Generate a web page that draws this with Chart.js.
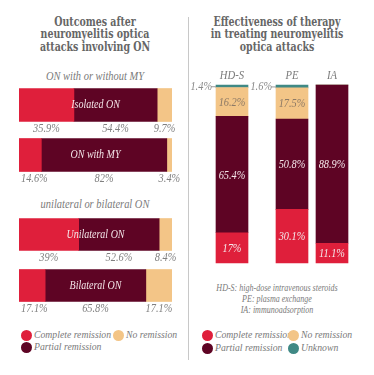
<!DOCTYPE html>
<html lang="en">
<head>
<meta charset="UTF-8">
<title>Neuromyelitis optica outcomes</title>
<script src="https://cdn.jsdelivr.net/npm/chart.js"></script>
<style>
  body { margin: 0; width: 374px; height: 375px; position: relative; background: #fff; overflow: hidden; }
  canvas { position: absolute; }
  .title { position: absolute; font-family: 'DejaVu Serif', serif; font-weight: bold; font-stretch: condensed;
           font-size: 12.2px; line-height: 12.4px; color: #666; text-align: center;
           transform: scaleX(0.86); transform-origin: center top; }
  .it { position: absolute; font-family: 'Liberation Serif', 'Times New Roman', serif; font-style: italic; color: #7a7a7a; white-space: nowrap; }
  .sub { font-size: 12px; width: 190px; text-align: center; left: 0; transform: scaleX(0.87); }
  .note { font-size: 10px; line-height: 11px; text-align: center; left: 190px; width: 174px; top: 282px;
          transform: scaleX(0.8); }
  .leg { font-size: 11.3px; transform: scaleX(0.86); transform-origin: left center; }
  .dot { position: absolute; width: 11px; height: 11px; border-radius: 50%; }
  .sep { position: absolute; left: 188px; top: 17px; width: 1px; height: 343px; background: #c8c8c8; }
</style>
</head>
<body>
<div class="title" style="left:0;top:16px;width:190px;">Outcomes after<br>neuromyelitis optica<br>attacks involving ON</div>
<div class="title" style="left:187px;top:16px;width:180px;">Effectiveness of therapy<br>in treating neuromyelitis<br>optica attacks</div>
<div class="sep"></div>

<div class="it sub" style="top:69px;">ON with or without MY</div>
<div class="it sub" style="top:197px;">unilateral or bilateral ON</div>

<canvas id="leftA" width="187" height="110" style="left:0;top:80px;"></canvas>
<canvas id="leftB" width="187" height="112" style="left:0;top:209px;"></canvas>
<canvas id="right" width="186" height="200" style="left:188px;top:65px;"></canvas>

<div class="it note">HD-S: high-dose intravenous steroids<br>PE: plasma exchange<br>IA: immunoadsorption</div>

<div id="legLeft"></div>
<div id="legRight"></div>

<script>
// outcomes after attacks (percent)
const groupA = ['Isolated ON', 'ON with MY'];
const completeA = [35.9, 14.6];
const partialA = [54.4, 82];
const noneA = [9.7, 3.4];

const groupB = ['Unilateral ON', 'Bilateral ON'];
const completeB = [39, 17.1];
const partialB = [52.6, 65.8];
const noneB = [8.4, 17.1];

// therapy effectiveness (percent)
const therapies = ['HD-S', 'PE', 'IA'];
const therapyComplete = [17, 30.1, 11.1];
const therapyPartial = [65.4, 50.8, 88.9];
const therapyNone = [16.2, 17.5, 0];
const therapyUnknown = [1.4, 1.6, 0];

const RED = '#df1f3b', MAROON = '#5e0424', TAN = '#f3c587', TEAL = '#3f8985';
const SERIF = '"Liberation Serif", "Times New Roman", serif';
const SERIF_IT = 'italic 11.5px ' + SERIF;

function fmt(v) { return v + '%'; }

// the original uses a narrow italic, so squeeze the text a bit
function squeezed(ctx, text, x, y, sx) {
  ctx.save();
  ctx.translate(x, y);
  ctx.scale(sx, 1);
  ctx.fillText(text, 0, 0);
  ctx.restore();
}

// labels below horizontal bars
const belowLabels = {
  id: 'belowLabels',
  afterDatasetsDraw(chart) {
    const ctx = chart.ctx;
    ctx.save();
    ctx.font = SERIF_IT;
    ctx.textBaseline = 'middle';
    ctx.textAlign = 'center';
    chart.data.datasets.forEach((ds, di) => {
      chart.getDatasetMeta(di).data.forEach((bar, i) => {
        const p = bar.getProps(['x', 'y', 'base', 'height'], true);
        const w = ctx.measureText(fmt(ds.data[i])).width * 0.9;
        let cx = (p.x + p.base) / 2;
        cx = Math.max(cx, 21 + w / 2);
        cx = Math.min(cx, 181 - w / 2);
        ctx.fillStyle = '#808080';
        squeezed(ctx, fmt(ds.data[i]), cx, p.y + p.height / 2 + 7, 0.9);
      });
    });
    // category name inside the bar
    ctx.font = 'italic 12.5px ' + SERIF;
    ctx.fillStyle = '#f4e6e9';
    const area = chart.chartArea;
    chart.getDatasetMeta(0).data.forEach((bar, i) => {
      squeezed(ctx, chart.data.labels[i], (area.left + area.right) / 2, bar.y, 0.8);
    });
    ctx.restore();
  }
};

function hbar(id, labels, c, p, n, thick) {
  new Chart(document.getElementById(id), {
    type: 'bar',
    data: {
      labels: labels,
      datasets: [
        { label: 'Complete remission', data: c, backgroundColor: RED },
        { label: 'Partial remission', data: p, backgroundColor: MAROON },
        { label: 'No remission', data: n, backgroundColor: TAN }
      ]
    },
    options: {
      indexAxis: 'y',
      responsive: false,
      animation: false,
      layout: { padding: { left: 19, right: 15, top: 0, bottom: 10 } },
      datasets: { bar: { barThickness: thick, borderWidth: 0 } },
      scales: {
        x: { stacked: true, min: 0, max: 100, display: false },
        y: { stacked: true, display: false }
      },
      plugins: { legend: { display: false }, tooltip: { enabled: false } }
    },
    plugins: [belowLabels]
  });
}

hbar('leftA', groupA, completeA, partialA, noneA, 33);
hbar('leftB', groupB, completeB, partialB, noneB, 32);

// spacer slots so the three therapy bars sit like the original
const slotOf = [0, 3, 5];
const SLOTS = 6;
function spread(arr) {
  const out = new Array(SLOTS).fill(null);
  arr.forEach((v, i) => { out[slotOf[i]] = v; });
  return out;
}
const slotLabels = spread(therapies).map(v => v || '');

const stackLabels = {
  id: 'stackLabels',
  afterDatasetsDraw(chart) {
    const ctx = chart.ctx;
    ctx.save();
    ctx.font = SERIF_IT;
    ctx.textBaseline = 'middle';
    ctx.textAlign = 'center';
    chart.data.datasets.forEach((ds, di) => {
      chart.getDatasetMeta(di).data.forEach((bar, i) => {
        const v = ds.data[i];
        if (!v) return;
        const p = bar.getProps(['x', 'y', 'base', 'width'], true);
        if (v < 5) {
          // tiny slice: label on the left with a short leader
          const left = p.x - p.width / 2;
          const ty = (p.y + p.base) / 2;
          ctx.strokeStyle = '#9a9a9a';
          ctx.lineWidth = 1;
          ctx.beginPath();
          ctx.moveTo(left - 5, ty + 0.5);
          ctx.lineTo(left, ty + 0.5);
          ctx.stroke();
          ctx.fillStyle = '#8a8a8a';
          ctx.textAlign = 'right';
          squeezed(ctx, fmt(v), left - 4, ty + 1, 0.9);
          ctx.textAlign = 'center';
          return;
        }
        ctx.fillStyle = ds.backgroundColor === TAN ? '#8d7a66' : '#f4e6e9';
        squeezed(ctx, fmt(v), p.x, (p.y + p.base) / 2 + 1, 0.9);
      });
    });
    // therapy names above bars
    ctx.font = 'italic 13px ' + SERIF;
    ctx.fillStyle = '#7a7a7a';
    chart.getDatasetMeta(0).data.forEach((bar, i) => {
      if (chart.data.labels[i]) squeezed(ctx, chart.data.labels[i], bar.x, chart.chartArea.top - 9, 0.82);
    });
    ctx.restore();
  }
};

new Chart(document.getElementById('right'), {
  type: 'bar',
  data: {
    labels: slotLabels,
    datasets: [
      { label: 'Complete remission', data: spread(therapyComplete), backgroundColor: RED },
      { label: 'Partial remission', data: spread(therapyPartial), backgroundColor: MAROON },
      { label: 'No remission', data: spread(therapyNone), backgroundColor: TAN },
      { label: 'Unknown', data: spread(therapyUnknown), backgroundColor: TEAL }
    ]
  },
  options: {
    responsive: false,
    animation: false,
    layout: { padding: { left: 34, right: 32, top: 20, bottom: 2 } },
    datasets: { bar: { barThickness: 32, borderWidth: 0, clip: false } },
    scales: {
      x: { stacked: true, display: false },
      y: { stacked: true, min: 0, max: 100, display: false }
    },
    plugins: { legend: { display: false }, tooltip: { enabled: false } }
  },
  plugins: [stackLabels]
});

// legends
function legend(hostId, items) {
  const host = document.getElementById(hostId);
  items.forEach(it => {
    const d = document.createElement('div');
    d.className = 'dot';
    d.style.left = (it.x - 5.5) + 'px';
    d.style.top = (it.y - 5.5) + 'px';
    d.style.background = it.color;
    host.appendChild(d);
    const t = document.createElement('div');
    t.className = 'it leg';
    t.textContent = it.text;
    t.style.left = (it.x + 8) + 'px';
    t.style.top = (it.y - 7) + 'px';
    host.appendChild(t);
  });
}
legend('legLeft', [
  { text: 'Complete remission', color: RED, x: 26, y: 335 },
  { text: 'Partial remission', color: MAROON, x: 26, y: 347 },
  { text: 'No remission', color: TAN, x: 118, y: 335 }
]);
legend('legRight', [
  { text: 'Complete remission', color: RED, x: 207, y: 335 },
  { text: 'Partial remission', color: MAROON, x: 207, y: 348 },
  { text: 'No remission', color: TAN, x: 293, y: 335 },
  { text: 'Unknown', color: TEAL, x: 293, y: 348 }
]);
</script>
</body>
</html>
